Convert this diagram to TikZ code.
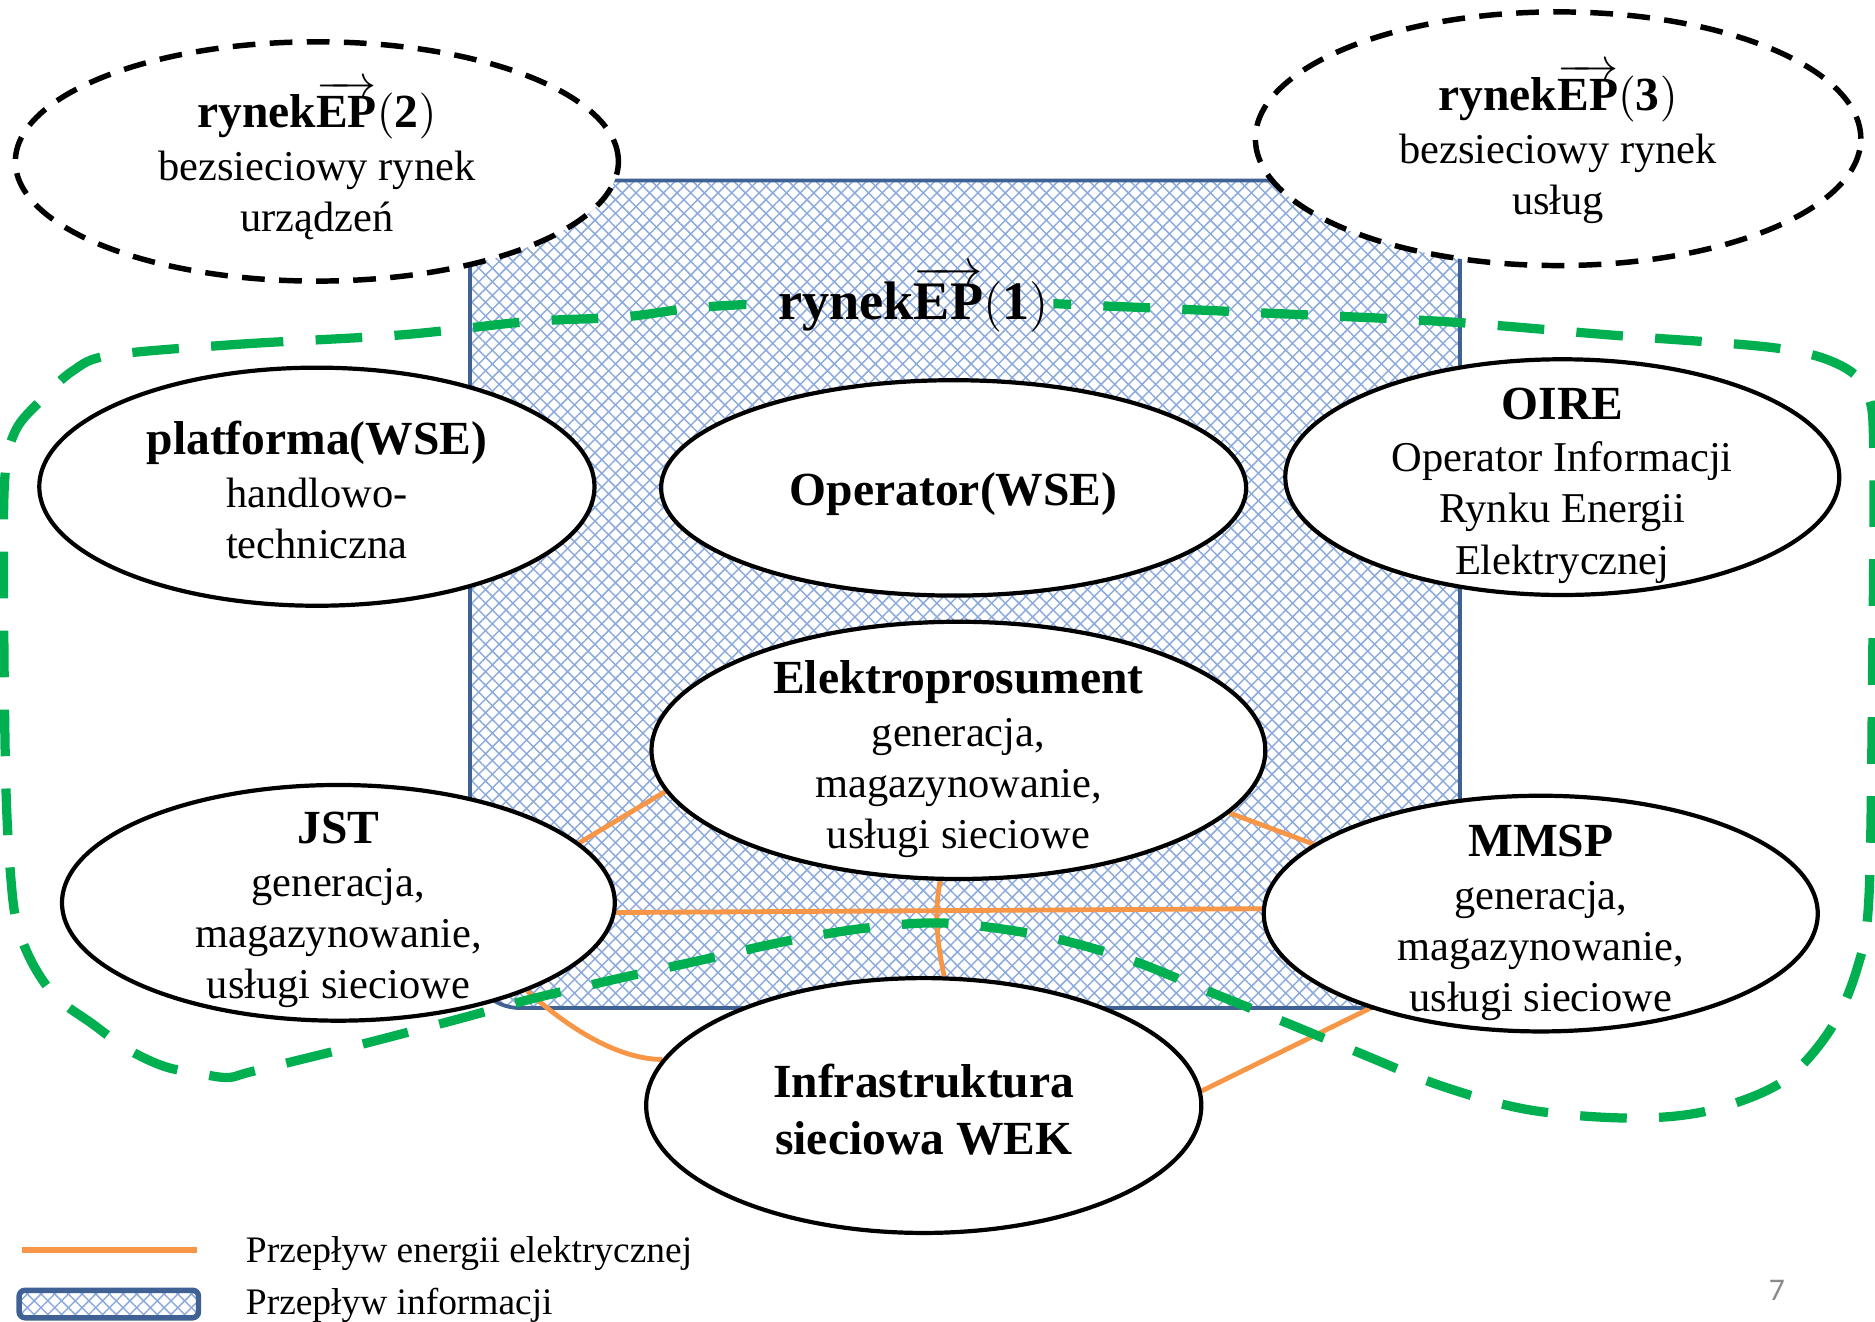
\documentclass[tikz,border=0pt]{standalone}
\usepackage{fontspec}
\setmainfont{Liberation Serif}
\newfontfamily\pagenumfont{Carlito}
\usetikzlibrary{shapes.geometric,patterns.meta}

\definecolor{flowline}{HTML}{F79646}
\definecolor{scopegreen}{HTML}{00B050}
\definecolor{infoborder}{HTML}{3F6193}
\definecolor{infohatch}{HTML}{8CAADC}
\definecolor{pagegray}{HTML}{898989}

\pgfdeclarelayer{back}
\pgfsetlayers{back,main}

% bold heading inside an ellipse
\newcommand\eltitle[1]{{\fontsize{11.3}{12.2}\selectfont\bfseries #1}}
% market heading with the arrow over EP
\newcommand\eptitle[2]{{\fontsize{#2}{12.2}\selectfont\bfseries rynek$\overrightarrow{\textbf{EP}\rule{0pt}{0.72em}}(\mathbf{#1})$}}

\tikzset{
  hatched/.style={
    preaction={fill=white},
    preaction={pattern={Lines[angle=45,distance=2.3pt,line width=0.35pt]},pattern color=infohatch},
    preaction={pattern={Lines[angle=-45,distance=2.3pt,line width=0.35pt]},pattern color=infohatch},
    draw=infoborder},
  infoarea/.style={hatched, rounded corners=0.42cm, line width=0.9pt},
  mainell/.style={ellipse, draw=black, line width=1pt, fill=white, inner sep=0pt},
  marketell/.style={ellipse, draw=black, line width=1.3pt, dash pattern=on 0.19cm off 0.12cm,
    fill=white, inner sep=0pt},
  textblock/.style={align=center, inner sep=0pt, font=\fontsize{10.1}{12.2}\selectfont},
  energy/.style={draw=flowline, line width=1.15pt},
  groupline/.style={draw=scopegreen, line width=2.2pt, dash pattern=on 0.39cm off 0.27cm},
  legendtext/.style={inner sep=0pt, font=\fontsize{8.9}{10.5}\selectfont},
}

\begin{document}
\begin{tikzpicture}[x=0.01cm,y=-0.01cm]
\useasboundingbox (0,0) rectangle (1568,1105);

% information flow area and the two network-free markets
\coordinate (infoNW) at (393,151);
\coordinate (infoSE) at (1221,843);
\begin{pgfonlayer}{back}
  \path[infoarea] (infoNW) rectangle (infoSE);
  \node[marketell, minimum width=5.04cm, minimum height=2.0cm] (m2) at (265,135) {};
  \node[marketell, minimum width=5.06cm, minimum height=2.12cm] (m3) at (1303,116) {};
\end{pgfonlayer}
\node[textblock] (m2t) at (265,134) {\eptitle{2}{11.3}\\[0.3pt] bezsieciowy rynek\\ urządzeń};
\node[textblock] (m3t) at (1303,120) {\eptitle{3}{11.3}\\[0.3pt] bezsieciowy rynek\\ usług};

% market participants
\node[mainell, minimum width=4.64cm, minimum height=1.99cm] (plat) at (265,407) {};
\node[mainell, minimum width=4.89cm, minimum height=1.80cm] (oper) at (797.5,408) {};
\node[mainell, minimum width=4.63cm, minimum height=1.97cm] (oire) at (1306.5,399) {};
\node[mainell, minimum width=5.13cm, minimum height=2.15cm] (elek) at (801.5,627.5) {};
\node[mainell, minimum width=4.62cm, minimum height=1.97cm] (jst) at (283,755) {};
\node[mainell, minimum width=4.63cm, minimum height=1.97cm] (mmsp) at (1288.5,764) {};
\node[mainell, minimum width=4.64cm, minimum height=2.13cm] (infra) at (772.5,924.5) {};

\node[textblock] (platt) at (265,410) {\eltitle{platforma(WSE)}\\[0.3pt] handlowo-\\ techniczna};
\node[textblock] (opert) at (797.5,413) {\eltitle{Operator(WSE)}};
\node[textblock] (oiret) at (1306.5,406) {\eltitle{OIRE}\\[0.3pt] Operator Informacji\\ Rynku Energii\\ Elektrycznej};
\node[textblock] (elekt) at (801.5,635) {\eltitle{Elektroprosument}\\[0.3pt] generacja,\\ magazynowanie,\\ usługi sieciowe};
\node[textblock] (jstt) at (283,761) {\eltitle{JST}\\[0.3pt] generacja,\\ magazynowanie,\\ usługi sieciowe};
\node[textblock] (mmspt) at (1288.5,772) {\eltitle{MMSP}\\[0.3pt] generacja,\\ magazynowanie,\\ usługi sieciowe};
\node[textblock, font=\fontsize{11.3}{13.4}\selectfont\bfseries] (infrat) at (772.5,928) {Infrastruktura\\ sieciowa WEK};

% electric energy flows
\begin{pgfonlayer}{back}
  \draw[energy] (elek.188) -- (jst.14);
  \draw[energy] (elek.-13) -- (mmsp.163.6);
  \draw[energy] (jst.-2.5) -- (mmsp.179.5);
  \draw[energy] (elek.262) .. controls (781,765) and (784,790) .. (infra.81.5);
  \draw[energy] (jst.-25.3) .. controls (482,866) and (522,886) .. (infra.170.4);
  \draw[energy] (mmsp.209.6) -- (infra.3);
\end{pgfonlayer}

% network market EP(1): label and its boundary
\node[inner sep=0pt, anchor=base] (ep1) at (764,267) {\eptitle{1}{12.9}};
\begin{scope}[even odd rule]
  \clip (-20,-20) rectangle (1590,1125)
    ([xshift=-0.26cm]ep1.south west) rectangle ([xshift=0.03cm]ep1.north east);
  \draw[groupline] plot[smooth cycle, tension=0.55] coordinates {
    (93,297) (198,288) (336,280) (441,269) (522,265) (599,256) (764,250) (927,256)
    (1063,262) (1209,269) (1345,280) (1485,291) (1540,306) (1562,330) (1567,380)
    (1566,560) (1563,749) (1553,810) (1530,862) (1490,905) (1428,929) (1362,935)
    (1278,928) (1205,908) (1138,881) (1075,855) (1008,828) (946,803) (874,783)
    (792,772) (725,776) (658,787) (586,803) (514,819) (442,836) (384,852) (288,877)
    (211,896) (192,901) (173,899) (138,892) (106,877) (77,856) (48,835) (29,809)
    (16,779) (10,745) (5,660) (3,500) (4,400) (13,360) (35,334) (61,310)};
\end{scope}

% legend
\coordinate (lgA) at (18,1045);
\coordinate (lgB) at (165,1045);
\draw[energy, line width=1.4pt] (lgA) -- (lgB);
\node[legendtext, anchor=west] (lgEt) at (205,1048) {Przepływ energii elektrycznej};
\coordinate (lgNW) at (16,1079);
\coordinate (lgSE) at (166,1102);
\path[hatched, rounded corners=0.05cm, line width=1.3pt] (lgNW) rectangle (lgSE);
\node[legendtext, anchor=west] (lgIt) at (205,1092) {Przepływ informacji};

% page number
\node[inner sep=0pt, font=\pagenumfont\fontsize{7.5}{9}\selectfont, text=pagegray] (pg) at (1486,1079) {7};
\end{tikzpicture}
\end{document}
